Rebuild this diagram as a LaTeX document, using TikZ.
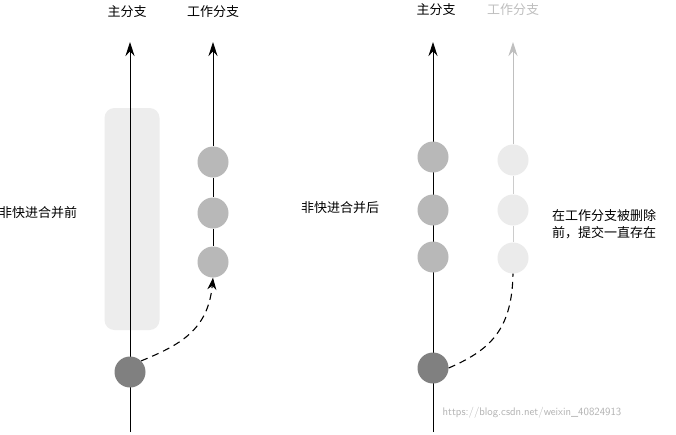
\documentclass[tikz,border=0pt]{standalone}
\usepackage{fontspec}
\newfontfamily\cjk{Noto Sans CJK SC}
\usetikzlibrary{arrows.meta}
\begin{document}
\begin{tikzpicture}[x=1pt,y=-1pt,
  lbl/.style={font=\cjk\fontsize{13}{17}\selectfont, inner sep=1pt},
  cmid/.style={circle, fill=black!28, minimum size=31pt, inner sep=0pt},
  clight/.style={circle, fill=black!8, minimum size=31pt, inner sep=0pt},
  cdark/.style={circle, fill=black!50, minimum size=31pt, inner sep=0pt},
  br/.style={line width=0.9pt, -{Stealth[length=14pt,width=9pt]}},
  dsh/.style={line width=1.1pt, dash pattern=on 7pt off 5pt}]
\useasboundingbox (0,0) rectangle (676,434);
\fill[white] (0,0) rectangle (676,434);
% left
\node[fill=black!7, rounded corners=10pt, minimum width=55pt, minimum height=222pt, inner sep=0pt] (rect) at (132,219) {};
\coordinate (m1b) at (130,432);
\coordinate (m1t) at (130,42);
\draw[br] (m1b) -- (m1t);
\node[lbl] (l1) at (127,12) {主分支};
\node[lbl] (l2) at (213,12) {工作分支};
\coordinate (w1t) at (213,42);
\node[cmid] (a1) at (213,162) {};
\node[cmid] (a2) at (213,213) {};
\node[cmid] (a3) at (213,262) {};
\draw[br] (a1) -- (w1t);
\draw[line width=0.9pt] (a1) -- (a2) -- (a3);
\node[cdark] (d1) at (130,372) {};
\draw[dsh, -{Stealth[length=12pt,width=9pt]}] (d1.north east) .. controls (180,345) and (208,330) .. (a3.south);
\node[lbl] (t1) at (38,213) {非快进合并前};
% right
\coordinate (m2b) at (433,432);
\coordinate (m2t) at (433,42);
\draw[br] (m2b) -- (m2t);
\node[cmid] (b1) at (433,157) {};
\node[cmid] (b2) at (433,210) {};
\node[cmid] (b3) at (433,257) {};
\node[cdark] (d2) at (433,368) {};
\node[lbl] (l3) at (436,10) {主分支};
\node[lbl, text=black!25] (l4) at (513,10) {工作分支};
\coordinate (w2t) at (513,42);
\node[clight] (c1) at (513,160) {};
\node[clight] (c2) at (513,210) {};
\node[clight] (c3) at (513,258) {};
\draw[line width=0.9pt, black!25, -{Stealth[length=14pt,width=9pt]}] (c1) -- (w2t);
\draw[line width=0.9pt, black!20] (c1) -- (c2) -- (c3);
\draw[dsh] (d2.east) .. controls (490,350) and (512,330) .. (c3.south);
\node[lbl] (t2) at (340,208) {非快进合并后};
\node[lbl, align=left] (t3) at (604,224) {在工作分支被删除\\前，提交一直存在};
\node[font=\sffamily\fontsize{11}{12}\selectfont, text=black!30] (wm) at (532,413) {https://blog.csdn.net/weixin\_40824913};
\end{tikzpicture}
\end{document}
